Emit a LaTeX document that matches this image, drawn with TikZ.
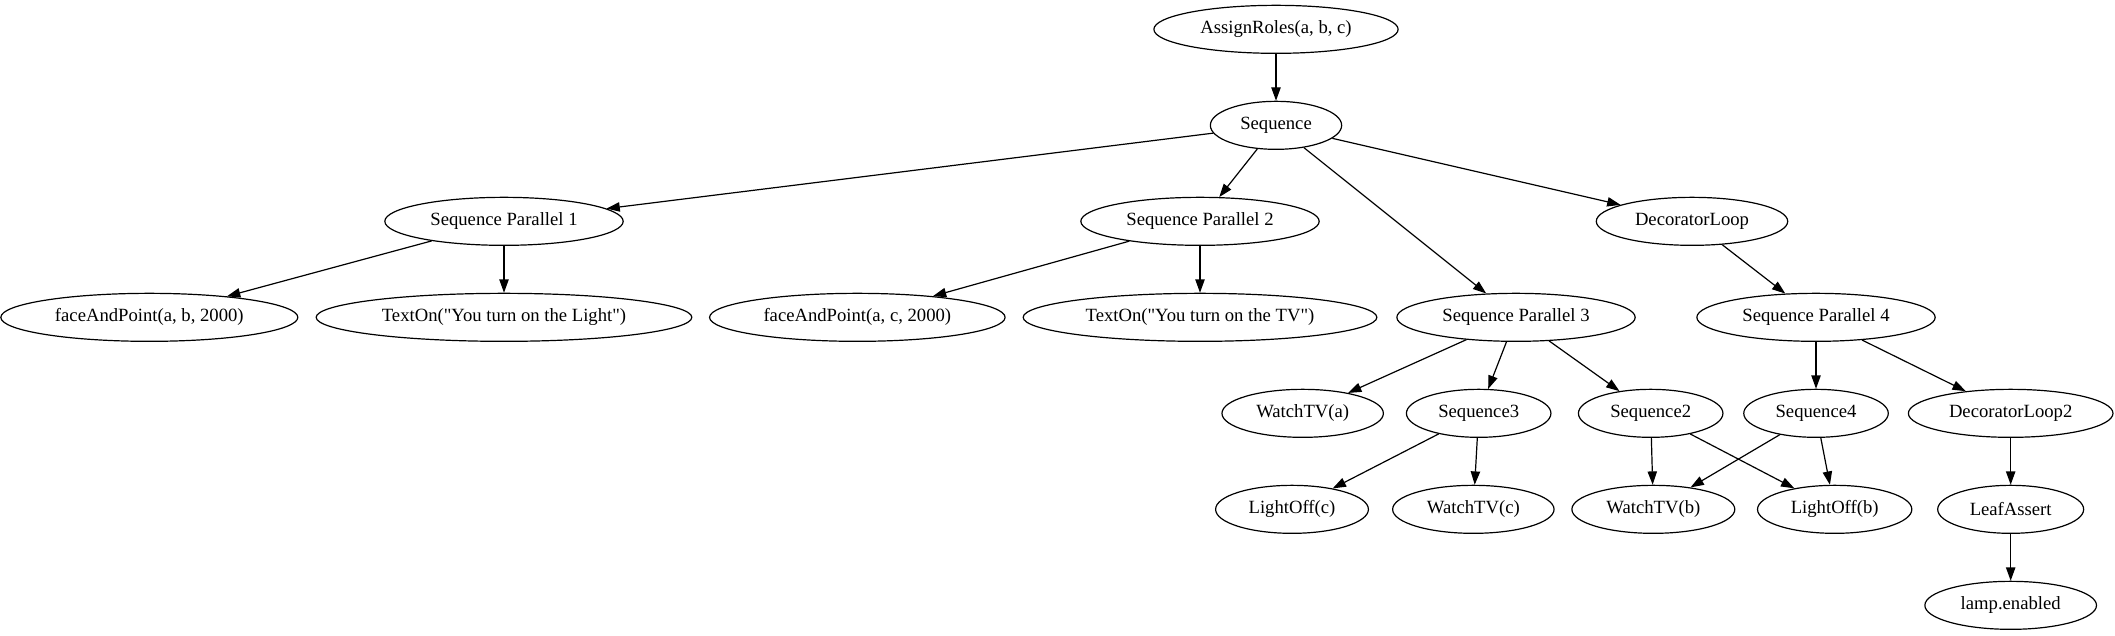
\documentclass[tikz,border=0pt]{standalone}
\usepackage{fontspec}
\setmainfont{Liberation Serif}[Ligatures=TeXOff]
\usepackage{tikz}
\usetikzlibrary{arrows.meta}
\usetikzlibrary{shapes.geometric}

\begin{document}
\begin{tikzpicture}[x=1pt,y=-1pt,
    task/.style={ellipse,draw=black,line width=0.9pt,font=\fontsize{14}{16}\selectfont,
                 inner xsep=8pt,inner ysep=2pt,minimum height=36pt},
    edge/.style={draw=black,line width=0.9pt,-{Triangle[length=10pt,width=7pt]}},
   ]
  \useasboundingbox (0,0) rectangle (1586.25,476.25);
  % rank 0 and 1
  \node[task] (assign) at (957,22)  {AssignRoles(a, b, c)};
  \node[task] (seq)    at (957,94)  {Sequence};
  % rank 2
  \node[task] (par1)   at (378,166)  {Sequence Parallel 1};
  \node[task] (par2)   at (900,166)  {Sequence Parallel 2};
  \node[task] (loop)   at (1269,166) {DecoratorLoop};
  % rank 3
  \node[task] (face1)  at (112,238)  {faceAndPoint(a, b, 2000)};
  \node[task] (text1)  at (378,238)  {TextOn("You turn on the Light")};
  \node[task] (face2)  at (643,238)  {faceAndPoint(a, c, 2000)};
  \node[task] (text2)  at (900,238)  {TextOn("You turn on the TV")};
  \node[task] (par3)   at (1137,238) {Sequence Parallel 3};
  \node[task] (par4)   at (1362,238) {Sequence Parallel 4};
  % rank 4
  \node[task] (watcha) at (977,310)  {WatchTV(a)};
  \node[task] (seqc)   at (1109,310) {Sequence3};
  \node[task] (seqb)   at (1238,310) {Sequence2};
  \node[task] (seqd)   at (1362,310) {Sequence4};
  \node[task] (loop2)  at (1508,310) {DecoratorLoop2};
  % rank 5 and 6
  \node[task] (offc)   at (969,382)  {LightOff(c)};
  \node[task] (watchc) at (1105,382) {WatchTV(c)};
  \node[task] (watchb) at (1240,382) {WatchTV(b)};
  \node[task] (offb)   at (1376,382) {LightOff(b)};
  \node[task] (leaf)   at (1508,382) {LeafAssert};
  \node[task] (lamp)   at (1508,454) {lamp.enabled};

  \draw[edge] (assign) -- (seq);
  \draw[edge] (seq) -- (par1);
  \draw[edge] (seq) -- (par2);
  \draw[edge] (seq) -- (par3);
  \draw[edge] (seq) -- (loop);
  \draw[edge] (par1) -- (face1);
  \draw[edge] (par1) -- (text1);
  \draw[edge] (par2) -- (face2);
  \draw[edge] (par2) -- (text2);
  \draw[edge] (loop) -- (par4);
  \draw[edge] (par3) -- (watcha);
  \draw[edge] (par3) -- (seqc);
  \draw[edge] (par3) -- (seqb);
  \draw[edge] (par4) -- (seqd);
  \draw[edge] (par4) -- (loop2);
  \draw[edge] (seqc) -- (offc);
  \draw[edge] (seqc) -- (watchc);
  \draw[edge] (seqb) -- (watchb);
  \draw[edge] (seqb) -- (offb);
  \draw[edge] (seqd) -- (watchb);
  \draw[edge] (seqd) -- (offb);
  \draw[edge] (loop2) -- (leaf);
  \draw[edge] (leaf) -- (lamp);
\end{tikzpicture}
\end{document}
